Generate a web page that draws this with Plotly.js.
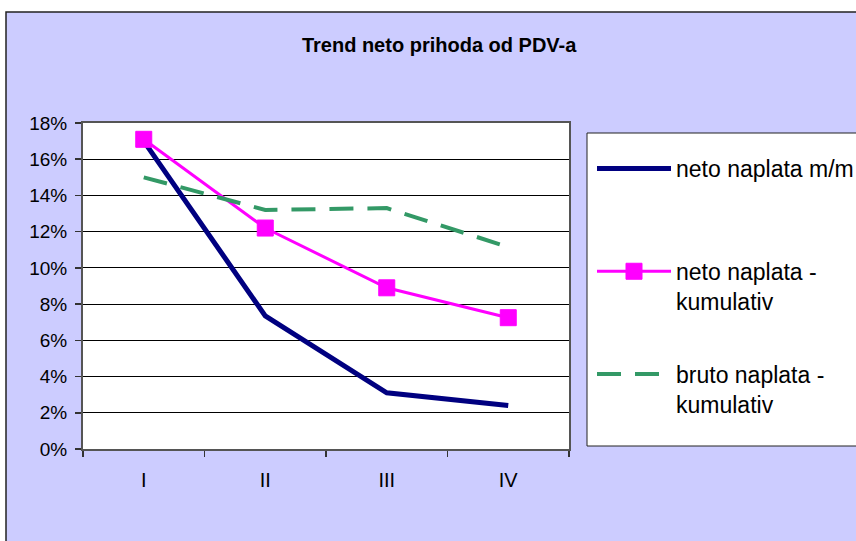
<!DOCTYPE html>
<html>
<head>
<meta charset="utf-8">
<script src="https://cdn.plot.ly/plotly-3.0.1.min.js"></script>
<style>html,body{margin:0;padding:0;background:#fff;}#chart{width:856px;height:541px;}</style>
</head>
<body>
<div id="chart"></div>
<script>
// Data
const categories = ['I', 'II', 'III', 'IV'];
const netoMM = [17.0, 7.35, 3.1, 2.4];
const netoKumulativ = [17.1, 12.2, 8.9, 7.25];
const brutoKumulativ = [15.0, 13.2, 13.3, 11.15];
const seriesNames = ['neto naplata m/m<br> ', 'neto naplata -<br>kumulativ', 'bruto naplata -<br>kumulativ'];
const yTicks = [0, 2, 4, 6, 8, 10, 12, 14, 16, 18];

const FONT = 'Arial, "Liberation Sans", sans-serif';

const traces = [
  {x: categories, y: netoMM, name: seriesNames[0], type: 'scatter', mode: 'lines', legendgroup: 'a',
   line: {color: '#000080', width: 5}},
  {x: categories, y: netoKumulativ, name: seriesNames[1], type: 'scatter', mode: 'lines+markers', legendgroup: 'b',
   line: {color: '#FF00FF', width: 3},
   marker: {symbol: 'square', size: 16, color: '#FF00FF', line: {color: '#FF00FF', width: 1}}},
  {x: categories, y: brutoKumulativ, name: seriesNames[2], type: 'scatter', mode: 'lines', legendgroup: 'c',
   line: {color: '#339966', width: 4, dash: '24px,14px'}}
];

const L = 83, R = 569, T = 123, B = 449, W = 856, H = 541;
const px = v => (v - L) / (R - L);
const py = v => (B - v) / (B - T);

const layout = {
  width: W, height: H,
  paper_bgcolor: '#FFFFFF',
  plot_bgcolor: '#FFFFFF',
  margin: {l: L, r: W - R, t: T, b: H - B, autoexpand: false},
  font: {family: FONT, color: '#000'},
  title: {text: '<b>Trend neto prihoda od PDV-a</b>', font: {family: FONT, size: 20, color: '#000'},
          x: 0.513, xanchor: 'center', xref: 'container', y: 1 - 45 / H, yanchor: 'middle', yref: 'container'},
  xaxis: {
    type: 'category', range: [-0.5, 3.5], tickson: 'boundaries',
    ticks: 'outside', ticklen: 6, tickcolor: '#333', tickwidth: 1.5,
    showline: true, linecolor: '#555', linewidth: 2, mirror: true,
    showgrid: false, tickfont: {size: 20}, ticklabelstandoff: 12, fixedrange: true
  },
  yaxis: {
    range: [0, 18], tickvals: yTicks, ticktext: yTicks.map(v => v + '%'),
    ticks: 'outside', ticklen: 6, tickcolor: '#333', tickwidth: 1.5,
    showline: true, linecolor: '#555', linewidth: 2, mirror: true,
    showgrid: true, gridcolor: '#000', gridwidth: 1, zeroline: false,
    tickfont: {size: 19}, ticklabelstandoff: 4, fixedrange: true
  },
  showlegend: true,
  legend: {
    x: px(592), y: py(147), xanchor: 'left', yanchor: 'top',
    bgcolor: 'rgba(0,0,0,0)', borderwidth: 0,
    font: {family: FONT, size: 23, color: '#000'}, valign: 'top',
    tracegroupgap: 40, itemwidth: 74, traceorder: 'grouped'
  },
  shapes: [
    {type: 'rect', xref: 'paper', yref: 'paper', layer: 'below',
     x0: px(6), x1: px(900), y0: py(560), y1: py(12),
     fillcolor: '#CCCCFF', line: {color: '#222', width: 1.5}},
    {type: 'rect', xref: 'paper', yref: 'paper', layer: 'below',
     x0: 0, x1: 1, y0: 0, y1: 1, fillcolor: '#FFFFFF', line: {width: 0}},
    {type: 'rect', xref: 'paper', yref: 'paper', layer: 'below',
     x0: px(587), x1: px(900), y0: py(446), y1: py(133),
     fillcolor: '#FFFFFF', line: {color: '#222', width: 1}}
  ]
};

Plotly.newPlot('chart', traces, layout, {displayModeBar: false, staticPlot: true});
</script>
</body>
</html>
